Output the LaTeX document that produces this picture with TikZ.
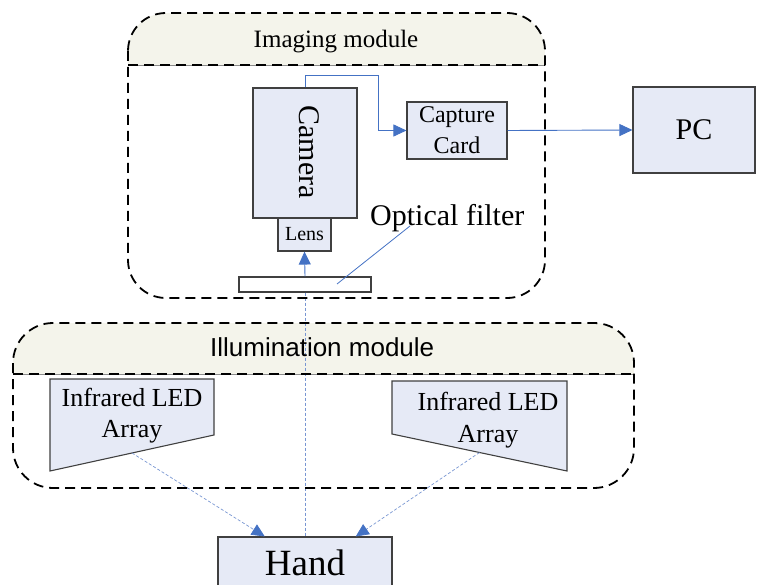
\documentclass[tikz,border=0pt]{standalone}
\usepackage{fontspec}
\setmainfont{Liberation Serif}
\newfontfamily\illumfont{Liberation Sans}
\usetikzlibrary{arrows.meta,calc}
\definecolor{BoxClr}{RGB}{230,234,246}
\definecolor{EdgeClr}{RGB}{64,64,64}
\definecolor{LinkClr}{RGB}{68,114,196}
\definecolor{RayClr}{RGB}{120,150,210}
\definecolor{HeadClr}{RGB}{244,244,235}

\begin{document}
\begin{tikzpicture}[x=1pt,y=-1pt,
  unit/.style={draw=EdgeClr,line width=1.1pt,fill=BoxClr,inner sep=0pt},
  module/.style={draw=black,line width=1.8pt,dash pattern=on 10pt off 6pt},
  divider/.style={draw=black!45,line width=0.6pt},
  link/.style={draw=LinkClr,line width=0.9pt,-{Triangle[length=13pt,width=12pt]}},
  ray/.style={draw=RayClr,line width=0.7pt,dash pattern=on 3pt off 2pt},
  rayarrow/.style={ray,-{Triangle[length=13pt,width=12pt,color=LinkClr]}},
  txt/.style={inner sep=0pt}]
\useasboundingbox (0,0) rectangle (757,585);

% module headers
\begin{scope}
\clip[rounded corners=38] (128,13) rectangle (545,298);
\fill[HeadClr] (128,13) rectangle (545,65);
\end{scope}
\begin{scope}
\clip[rounded corners=40] (13,323) rectangle (634,488);
\fill[HeadClr] (13,323) rectangle (634,374);
\end{scope}

% imaging module
\node[unit,minimum width=104,minimum height=130] (camera) at (305,153) {};
\node[txt,rotate=-90,font=\fontsize{30}{36}\selectfont] (camtext) at (309,152) {Camera};
\node[unit,minimum width=53,minimum height=33,font=\fontsize{20}{24}\selectfont] (lens) at (304.5,234.5) {Lens};
\node[draw=EdgeClr,line width=1.1pt,fill=white,minimum width=132,minimum height=15,inner sep=0pt] (filter) at (305,284.5) {};
\node[unit,minimum width=100,minimum height=57,align=center,font=\fontsize{24}{31}\selectfont] (capture) at (457,130.5) {Capture\\Card};
\node[unit,minimum width=122,minimum height=86,font=\fontsize{30}{36}\selectfont] (pc) at (694,130) {PC};
\node[txt,anchor=base west,font=\fontsize{30}{36}\selectfont] (flabel) at (370,226) {Optical filter};
\coordinate (ftag) at (410,226);
\coordinate (fend) at (337,284);

\draw[link] (camera.north) -- ++(0,-12) -| ($(capture.west)+(-28,0)$) -- (capture.west);
\draw[link] (capture.east) -- (pc.west);
\draw[link] (filter.north) -- (lens.south);
\draw[draw=LinkClr,line width=0.8pt] (ftag) -- (fend);

% illumination module
\coordinate (la) at (50,379);
\coordinate (lb) at (214,379);
\coordinate (lc) at (214,435);
\coordinate (ld) at (50,471);
\coordinate (ra) at (392,381);
\coordinate (rb) at (567,381);
\coordinate (rc) at (567,471);
\coordinate (rd) at (392,434);
\draw[unit] (la) -- (lb) -- (lc) -- (ld) -- cycle;
\draw[unit] (ra) -- (rb) -- (rc) -- (rd) -- cycle;
\node[txt,align=center,font=\fontsize{26}{31}\selectfont] (ledleft) at (132,416) {Infrared LED\\Array};
\node[txt,align=center,font=\fontsize{26}{32}\selectfont] (ledright) at (488,420) {Infrared LED\\Array};

\node[unit,minimum width=174,minimum height=52,font=\fontsize{37}{44}\selectfont] (hand) at (305,563) {Hand};

\draw[ray] (filter.south) -- (hand.north);
\draw[rayarrow] ($(lc)!0.5!(ld)$) -- ($(hand.north west)!0.27!(hand.north east)$);
\draw[rayarrow] ($(rd)!0.5!(rc)$) -- ($(hand.north west)!0.79!(hand.north east)$);

% dashed outlines
\draw[divider] (128,65) -- (545,65);
\draw[divider] (13,374) -- (634,374);
\draw[module,rounded corners=38] (128,13) rectangle (545,298);
\draw[module] (128,65) -- (545,65);
\draw[module,rounded corners=40] (13,323) rectangle (634,488);
\draw[module] (13,374) -- (634,374);

\node[txt,anchor=base,font=\fontsize{25}{30}\selectfont] (imgtitle) at (336,48) {Imaging module};
\node[txt,anchor=base west,font=\illumfont\fontsize{26}{31}\selectfont] (illtitle) at (210,356) {Illumination module};
\end{tikzpicture}
\end{document}
